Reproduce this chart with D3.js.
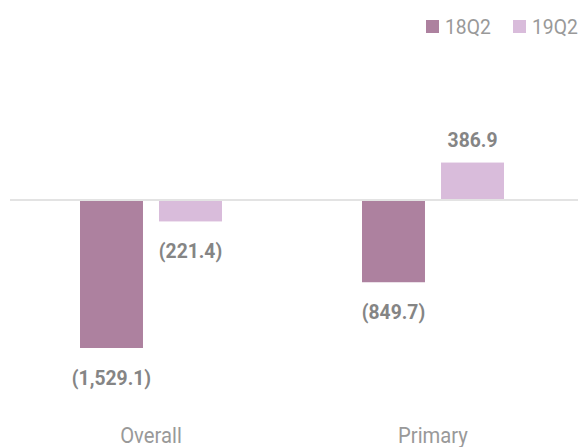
<!DOCTYPE html>
<html><head><meta charset="utf-8">
<script src="https://cdn.jsdelivr.net/npm/d3@7"></script>
<style>body{margin:0;background:#fff}svg{display:block}text{font-family:Roboto,"Noto Sans",sans-serif}</style>
</head><body>
<script>
const categories = ["Overall", "Primary"];
const seriesNames = ["18Q2", "19Q2"];
const values18Q2 = [-1529.1, -849.7];
const values19Q2 = [-221.4, 386.9];
const valueLabels18Q2 = ["(1,529.1)", "(849.7)"];
const valueLabels19Q2 = ["(221.4)", "386.9"];
const colors = ["#ad819f", "#d9bcdb"];

const W = 584, H = 447;
const svg = d3.select("body").append("svg").attr("width", W).attr("height", H);

const x0 = d3.scaleBand().domain(categories).range([10, 574]).padding(0);
const x1 = d3.scaleBand().domain(seriesNames).range([70, 212]).paddingInner(0.203).paddingOuter(0);
const y = d3.scaleLinear().domain([0, -1529.1]).range([200, 348]);

const data = categories.map((c, i) => ({
  cat: c,
  vals: [
    {s: seriesNames[0], v: values18Q2[i], lab: valueLabels18Q2[i], col: colors[0]},
    {s: seriesNames[1], v: values19Q2[i], lab: valueLabels19Q2[i], col: colors[1]}
  ]
}));

svg.append("line").attr("x1", 10).attr("x2", 578).attr("y1", y(0)).attr("y2", y(0))
  .attr("stroke", "#e3e3e3").attr("stroke-width", 2);

const g = svg.selectAll("g.grp").data(data).join("g").attr("class", "grp")
  .attr("transform", d => `translate(${x0(d.cat)},0)`);

g.selectAll("rect").data(d => d.vals).join("rect")
  .attr("x", d => x1(d.s)).attr("width", x1.bandwidth())
  .attr("y", d => d.v >= 0 ? y(d.v) : y(0) + 1)
  .attr("height", d => Math.abs(y(d.v) - y(0)) - 1)
  .attr("fill", d => d.col);

g.selectAll("text.val").data(d => d.vals).join("text").attr("class", "val")
  .attr("transform", d => `translate(${x1(d.s) + x1.bandwidth() / 2},${d.v >= 0 ? y(d.v) - 16 : y(d.v) + 37}) scale(0.92,1)`)
  .attr("text-anchor", "middle")
  .attr("font-size", 21).attr("font-weight", "bold").attr("fill", "#858585")
  .text(d => d.lab);

svg.selectAll("text.cat").data(categories).join("text").attr("class", "cat")
  .attr("transform", d => `translate(${x0(d) + x0.bandwidth() / 2},443) scale(0.92,1)`)
  .attr("text-anchor", "middle").attr("font-size", 22).attr("fill", "#999")
  .text(d => d);

const legX = [426, 513];
const leg = svg.selectAll("g.leg").data(seriesNames).join("g").attr("class", "leg")
  .attr("transform", (d, i) => `translate(${legX[i]},0)`);
leg.append("rect").attr("x", 0).attr("y", 20).attr("width", 13).attr("height", 13)
  .attr("fill", (d, i) => colors[i]);
leg.append("text").attr("transform", "translate(19,34) scale(0.92,1)").attr("font-size", 21).attr("fill", "#999")
  .text(d => d);
</script>
</body></html>
